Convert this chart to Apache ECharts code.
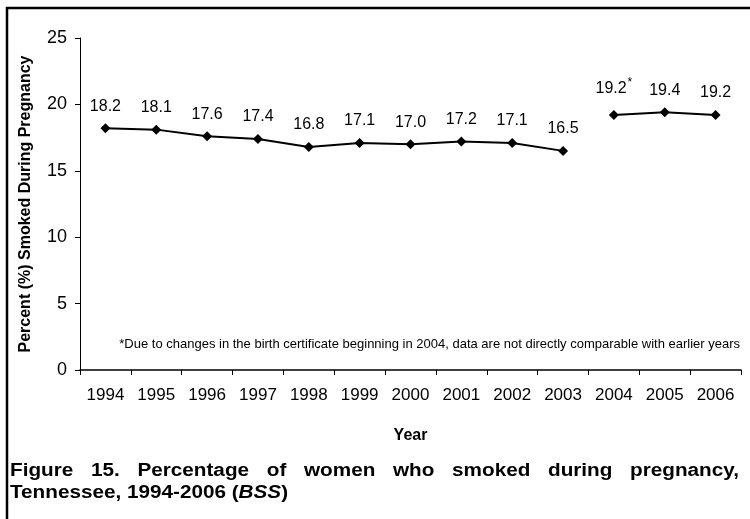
<!DOCTYPE html>
<html>
<head>
<meta charset="utf-8">
<script src="https://cdn.jsdelivr.net/npm/echarts@6/dist/echarts.min.js"></script>
<style>
  html, body { margin: 0; padding: 0; background: #fff; }
  #chart { width: 750px; height: 519px; }
</style>
</head>
<body>
<div id="chart"></div>
<script>
var years = ['1994', '1995', '1996', '1997', '1998', '1999', '2000', '2001', '2002', '2003', '2004', '2005', '2006'];
// old birth certificate (1994-2003) and new one (2004-2006), kept as separate lines
var oldCert = [18.2, 18.1, 17.6, 17.4, 16.8, 17.1, 17.0, 17.2, 17.1, 16.5, '-', '-', '-'];
var newCert = ['-', '-', '-', '-', '-', '-', '-', '-', '-', '-', 19.2, 19.4, 19.2];
var yTicks = [0, 5, 10, 15, 20, 25];
var footnote = '*Due to changes in the birth certificate beginning in 2004, data are not directly comparable with earlier years';
var captionLine1 = ['Figure', '15.', 'Percentage', 'of', 'women', 'who', 'smoked', 'during', 'pregnancy,'];

var FONT = 'Arial, "Liberation Sans", sans-serif';
var CAP_FONT = 'bold 18px ' + FONT;
var CAP_SX = 1.15;   // caption text in the source is a bit stretched
var chart = echarts.init(document.getElementById('chart'));

// justify first caption line between x0 and x1 (measured with canvas)
var ctx = document.createElement('canvas').getContext('2d');
ctx.font = CAP_FONT;
var capX0 = 10, capX1 = 739;
var wordW = captionLine1.map(function (w) { return ctx.measureText(w).width * CAP_SX; });
var totalW = wordW.reduce(function (a, b) { return a + b; }, 0);
var gap = (capX1 - capX0 - totalW) / (captionLine1.length - 1);
var captionEls = [];
var cx = capX0;
captionLine1.forEach(function (w, i) {
    captionEls.push({
        type: 'text', x: cx, y: 462, scaleX: CAP_SX,
        style: { text: w, font: CAP_FONT, fill: '#000', verticalAlign: 'top' }
    });
    cx += wordW[i] + gap;
});

function labelFmt(p) {
    var s = p.value.toFixed(1);
    if (p.dataIndex === 10) return s + '{sup|*}';
    return s;
}

var lineSeries = function (data) {
    return {
        type: 'line',
        data: data,
        symbol: 'diamond',
        symbolSize: 10,
        connectNulls: false,
        itemStyle: { color: '#000' },
        lineStyle: { color: '#000', width: 2 },
        label: {
            show: true,
            position: 'top',
            distance: 9,
            formatter: labelFmt,
            color: '#000',
            fontSize: 16,
            fontFamily: FONT,
            rich: { sup: { fontSize: 12, verticalAlign: 'top', padding: [0, 0, 12, 1], color: '#000' } }
        },
        animation: false
    };
};

option = {
    backgroundColor: '#fff',
    grid: { left: 80, right: 9, top: 38, bottom: 149 },
    xAxis: {
        type: 'category',
        data: years,
        boundaryGap: true,
        name: 'Year',
        nameLocation: 'middle',
        nameGap: 58,
        nameTextStyle: { fontWeight: 'bold', fontSize: 16, fontFamily: FONT, color: '#000' },
        axisLine: { lineStyle: { color: '#000', width: 1.5 } },
        axisTick: { show: true, length: 5, lineStyle: { color: '#000' } },
        axisLabel: { color: '#000', fontSize: 17, fontFamily: FONT, margin: 17 }
    },
    yAxis: {
        type: 'value',
        min: yTicks[0],
        max: yTicks[yTicks.length - 1],
        interval: 5,
        name: 'Percent (%) Smoked During Pregnancy',
        nameLocation: 'middle',
        nameGap: 46,
        nameTextStyle: { fontWeight: 'bold', fontSize: 16, fontFamily: FONT, color: '#000' },
        axisLine: { show: true, lineStyle: { color: '#000', width: 1 } },
        axisTick: { show: true, length: 5, lineStyle: { color: '#000' } },
        axisLabel: { color: '#000', fontSize: 18, fontFamily: FONT, margin: 13 },
        splitLine: { show: false }
    },
    graphic: [
        {
            type: 'rect', silent: true,
            shape: { x: 7, y: 8, width: 800, height: 600 },
            style: { fill: 'none', stroke: '#000', lineWidth: 2.5 }
        },
        {
            type: 'text', right: 10, top: 338,
            style: { text: footnote, font: '13px ' + FONT, fill: '#000' }
        },
        {
            type: 'text', x: capX0, y: 484, scaleX: CAP_SX,
            style: {
                text: 'Tennessee, 1994-2006 ({i|BSS})',
                font: CAP_FONT, fill: '#000', verticalAlign: 'top',
                rich: { i: { fontStyle: 'italic', fontWeight: 'bold', fontSize: 18, fontFamily: FONT } }
            }
        }
    ].concat(captionEls),
    series: [lineSeries(oldCert), lineSeries(newCert)]
};
chart.setOption(option);
</script>
</body>
</html>
